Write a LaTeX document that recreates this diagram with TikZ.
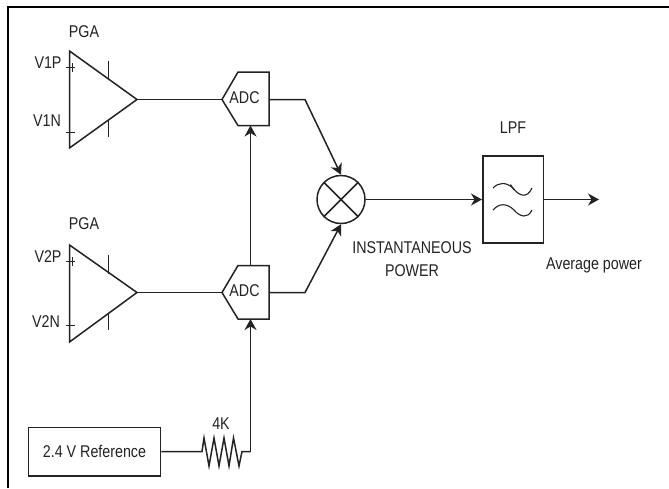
\documentclass[tikz,border=0pt]{standalone}
\usepackage{fontspec}
\setmainfont{Liberation Sans}[FakeStretch=0.84]
\usetikzlibrary{arrows.meta}
\definecolor{LineClr}{RGB}{35,35,35}
\tikzset{
  wire/.style={line width=1.5pt,color=LineClr},
  fine/.style={line width=1.1pt,color=LineClr},
  feed/.style={wire,-{Stealth[length=11pt,width=12pt,inset=3.5pt]}},
  block/.style={draw=LineClr,line width=1.5pt,inner sep=0pt},
  txt/.style={inner sep=0pt,text=LineClr,font=\fontsize{17}{19}\selectfont},
}

\begin{document}
\begin{tikzpicture}[x=1pt,y=-1pt]
\useasboundingbox (0,0) rectangle (669,488);
\fill[white] (0,0) rectangle (669,488);

% frame
\draw[line width=2pt,black] (7.5,488) -- (7.5,7) -- (669,7);

% amplifiers
\coordinate (P1a) at (69.5,51);
\coordinate (P1b) at (69.5,148);
\coordinate (P1o) at (137,99.5);
\coordinate (P2a) at (69.5,245);
\coordinate (P2b) at (69.5,342);
\coordinate (P2o) at (137,292.5);
\draw[wire] (P1a) -- (P1o) -- (P1b) -- cycle;
\draw[wire] (P2a) -- (P2o) -- (P2b) -- cycle;

\draw[fine] (108.5,61) -- (108.5,80) (108.5,120) -- (108.5,137);
\draw[fine] (108.5,255) -- (108.5,274) (108.5,314) -- (108.5,330);
\draw[fine] (66,67.5) -- (75,67.5) (72.5,63) -- (72.5,72) (66,132.5) -- (75,132.5);
\draw[fine] (66,261.5) -- (75,261.5) (72.5,257) -- (72.5,266) (66,325.5) -- (75,325.5);

% converters
\coordinate (A1t) at (222,99.5);
\coordinate (A2t) at (222,292.5);
\draw[wire] (A1t) -- (238,72) -- (269,72) -- (269,125.5) -- (238,125.5) -- cycle;
\draw[wire] (A2t) -- (238,265.5) -- (269,265.5) -- (269,319) -- (238,319) -- cycle;
\coordinate (A1r) at (269,99.5);
\coordinate (A2r) at (269,292.5);
\coordinate (A1b) at (250.5,125.5);
\coordinate (A2a) at (250.5,265.5);
\coordinate (A2b) at (250.5,319);

% multiplier
\node[circle,draw=LineClr,line width=1.5pt,minimum size=48pt,inner sep=0pt] (mult) at (341,199.5) {};
\draw[wire] (mult.45) -- (mult.225) (mult.135) -- (mult.315);

% filter
\node[block,minimum width=60.5pt,minimum height=87pt] (lpf) at (513,199.5) {};
\draw[fine] (493,188) .. controls (499,182) and (506,182) .. (513,188) .. controls (519,196) and (527,199) .. (532,188);
\draw[fine] (493,210) .. controls (499,203) and (507,203) .. (514,210) .. controls (520,217) and (528,219) .. (532,210);
\draw[fine] (510.5,184.5) -- (514,190);

% reference
\node[block,minimum width=132pt,minimum height=48.5pt] (ref) at (94.5,451.5) {\fontsize{17}{19}\selectfont\color{LineClr}2.4 V Reference};
\coordinate (R) at (250.5,451.5);

% connections
\draw[wire] (P1o) -- (A1t);
\draw[wire] (P2o) -- (A2t);
\draw[feed] (A2a) -- (A1b);
\draw[feed] (A1r) -- (305,99.5) -- (mult.90);
\draw[feed] (A2r) -- (305,292.5) -- (mult.270);
\draw[feed] (mult.east) -- (lpf.west);
\draw[feed] (lpf.east) -- (599,199.5);
\draw[wire] (ref.east) -- (202,451.5) -- (204,438) -- (209,466) -- (214,438) -- (219,466) -- (224,438) -- (229,466) -- (233.5,438) -- (239,466) -- (242,451.5) -- (R);
\draw[feed] (R) -- (A2b);

% labels
\node[txt] (pgaA) at (84,31.5) {PGA};
\node[txt] (pgaB) at (84,224) {PGA};
\node[txt] (vAp) at (48,63) {V1P};
\node[txt] (vAn) at (47,121) {V1N};
\node[txt] (vBp) at (48,257) {V2P};
\node[txt] (vBn) at (46,322) {V2N};
\node[txt] (adcA) at (244.5,98) {ADC};
\node[txt] (adcB) at (244.5,291) {ADC};
\node[txt] (res) at (221,424) {4K};
\node[txt] (inst) at (412,248) {INSTANTANEOUS};
\node[txt] (pow) at (412,271) {POWER};
\node[txt] (filt) at (513,127.5) {LPF};
\node[txt] (avg) at (594,265) {Average power};

\end{tikzpicture}
\end{document}
